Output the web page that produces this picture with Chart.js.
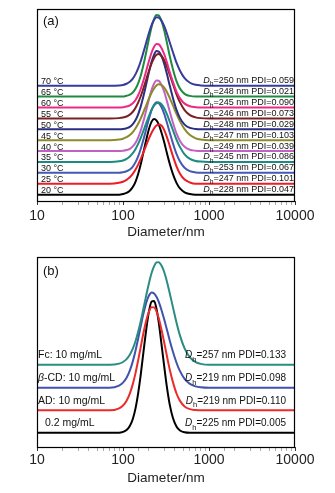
<!DOCTYPE html>
<html>
<head>
<meta charset="utf-8">
<script src="https://cdn.jsdelivr.net/npm/chart.js@4.4.0/dist/chart.umd.min.js"></script>
<style>
  body { margin:0; background:#fff; }
  canvas { display:block; }
</style>
</head>
<body>
<canvas id="chartA" width="335" height="246"></canvas>
<canvas id="chartB" width="335" height="247"></canvas>
<script>
// shared diameter grid (nm)
const diameters = [10,70,90,100,110,120,130,140,150,160,170,180,190,200,215,230,245,260,280,300,325,350,380,420,460,520,600,700,800,1000,10000];
const majorTicks = [10,100,1000,10000];

// ---------- (a) temperature series, bottom to top ----------
const tempLabels = ['20 °C','25 °C','30 °C','35 °C','40 °C','45 °C','50 °C','55 °C','60 °C','65 °C','70 °C'];
const tempOffsets = [6.5,17.6,28.8,39.9,51,62.1,73.2,84.3,95.5,106.6,117.7];
const tempDh = [228,247,253,245,249,247,248,246,245,248,250];
const tempPdi = ['0.047','0.101','0.067','0.086','0.039','0.103','0.029','0.073','0.090','0.021','0.059'];
const tempColors = ['#000000','#ee1c24','#4558b2','#1b8a80','#c062c4','#8c8a2c','#2a2f82','#7b1f24','#ec2a83','#1f8b3f','#373b9c'];

const t20 = [0,0,0,0.6,1.7,3.9,7.7,13.4,21.1,30.2,40.4,50.3,59.2,66.8,74.5,77.3,75.9,71.8,63.5,54.2,42.0,31.2,21.2,11.8,6.3,2.4,0.6,0,0,0,0];
const t25 = [0,0,1.0,2.1,4.0,6.6,10.1,14.5,19.5,24.8,30.5,36.0,41.2,46.0,52.1,56.6,59.4,60.6,59.4,55.3,47.4,38.4,28.5,17.6,10.3,4.3,1.3,0,0,0,0];
const t30 = [0,0,0,0.6,1.6,3.4,6.4,10.9,16.7,23.7,31.7,39.7,47.7,54.9,63.9,69.5,72.0,71.3,67.1,60.7,50.9,40.8,30.3,19.0,11.5,5.1,1.7,0.4,0,0,0];
const t35 = [0,0,0.6,1.5,3.1,5.5,8.9,13.2,18.4,24.0,30.1,36.0,41.6,46.7,53.2,57.6,60.1,60.7,58.9,55.1,48.5,41.0,32.6,22.5,15.1,7.8,3.2,1.0,0.3,0,0];
const t40 = [0,0,0,0.3,1.0,2.3,4.8,8.5,13.8,20.4,28.3,36.4,44.7,52.5,62.4,69.0,72.1,71.8,67.6,61.0,50.7,40.1,29.2,17.7,10.3,4.3,1.3,0.3,0,0,0];
const t45 = [0,0,0.7,1.5,3.0,5.2,8.3,12.2,16.8,21.8,27.2,32.5,37.6,42.4,48.4,52.9,55.8,57.0,56.3,53.9,49.0,43.0,35.8,26.6,19.2,11.2,5.2,1.9,0.7,0,0];
const t50 = [0,0,0,0.3,1.1,2.5,5.3,9.4,15.3,22.6,31.3,40.3,49.5,58.1,69.0,76.3,79.8,79.4,74.8,67.5,56.1,44.4,32.3,19.6,11.4,4.8,1.4,0.3,0,0,0];
const t55 = [0,0,0.3,0.9,2.0,3.9,6.8,11.0,16.2,22.1,28.8,35.5,42.2,48.4,56.2,61.8,65.0,65.7,63.7,59.7,52.5,44.4,35.3,24.4,16.4,8.5,3.4,1.1,0.3,0,0];
const t60 = [0,0,0,0.3,0.9,2.1,4.3,7.6,12.4,18.3,25.4,32.7,40.2,47.2,56.1,62.0,64.8,64.5,60.8,54.8,45.6,36.0,26.3,15.9,9.3,3.9,1.2,0.3,0,0,0];
const t65 = [0,0,0,0,0.8,1.9,4.2,7.9,13.5,20.7,29.7,39.2,49.2,58.8,71.1,79.4,83.3,82.9,77.2,68.2,54.6,41.1,28.2,15.5,8.1,2.8,0.7,0,0,0,0];
const t70 = [0,0,0.3,0.8,2.0,4.0,7.2,11.8,17.6,24.4,32.0,39.5,46.9,53.6,61.9,67.3,69.9,69.6,66.4,61.3,53.0,44.1,34.4,23.2,15.3,7.7,3.0,0.9,0.3,0,0];

// ---------- (b) concentration series, bottom to top ----------
const concLabels = ['0.2 mg/mL','AD: 10 mg/mL','β-CD: 10 mg/mL','Fc: 10 mg/mL'];
const concOffsets = [14.3,37,59.8,83];
const concDh = [225,219,219,257];
const concPdi = ['0.005','0.110','0.098','0.133'];
const concColors = ['#000000','#ee2b2b','#4152ad','#2a8c83'];

const c02 = [0,0,0,0.9,2.8,6.8,14.0,25.0,39.9,57.3,76.3,94.1,109.9,122.3,132.7,133.3,125.4,112.1,89.9,68.7,45.4,28.2,15.3,6.2,2.4,0.5,0,0,0,0,0];
const cAD = [0,0,2.1,4.9,9.8,17.0,26.5,37.9,50.5,63.0,75.1,85.2,93.5,99.6,104.3,104.1,100.0,93.3,81.7,69.5,54.4,41.0,28.8,16.8,9.6,4.0,1.2,0.3,0,0,0];
const cCD = [0,0,2.2,5.2,10.2,17.4,26.7,37.8,49.6,61.3,72.2,81.2,88.2,93.0,96.2,95.2,92.0,87.1,78.7,69.8,58.4,47.6,36.7,25.1,16.8,9.1,3.9,1.4,0.5,0,0];
const cFc = [0,0,1.2,2.9,5.8,10.2,16.3,24.1,33.4,43.4,53.9,64.1,73.6,82.3,92.8,99.8,103.5,103.8,100.4,94.3,83.8,72.1,58.6,42.3,29.5,16.6,7.5,2.7,1.0,0,0];

const FAM = 'Arial, "Liberation Sans", sans-serif';

function buildSets(series, offsets, colors){
  return series.map((vals, i) => ({
    data: vals.map((v, k) => ({x: diameters[k], y: v + offsets[i]})),
    borderColor: colors[i],
    borderWidth: 2,
    pointRadius: 0,
    fill: false,
    cubicInterpolationMode: 'monotone',
    order: -i
  }));
}

// draws D(italic) + subscript h + rest, right aligned
function drawDh(ctx, xRight, yMid, size, rest){
  const fD = 'italic ' + size + 'px ' + FAM;
  const fH = (size * 0.75) + 'px ' + FAM;
  const fR = size + 'px ' + FAM;
  ctx.font = fD; const wD = ctx.measureText('D').width;
  ctx.font = fH; const wH = ctx.measureText('h').width;
  ctx.font = fR; const wR = ctx.measureText(rest).width;
  let x = xRight - wD - wH - wR;
  ctx.textAlign = 'left';
  ctx.font = fD; ctx.fillText('D', x, yMid); x += wD;
  ctx.font = fH; ctx.fillText('h', x, yMid + size * 0.42); x += wH;
  ctx.font = fR; ctx.fillText(rest, x, yMid);
}

const curveText = {
  id: 'curveText',
  afterDatasetsDraw(chart, args, o){
    const {ctx, chartArea: a} = chart;
    const y = chart.scales.y;
    ctx.save();
    ctx.fillStyle = '#111';
    ctx.textBaseline = 'middle';
    ctx.textAlign = 'left';
    ctx.font = '13px ' + FAM;
    ctx.fillText(o.tag, a.left + 6, a.top + o.tagDy);
    o.offsets.forEach((off, i) => {
      const yb = y.getPixelForValue(off);
      // left label
      let lx = a.left + o.leftX + (o.indent ? o.indent[i] : 0);
      const ly = yb - o.leftDy;
      let txt = o.left[i];
      if (txt.charAt(0) === 'β'){
        ctx.font = 'italic ' + o.leftSize + 'px ' + FAM;
        ctx.fillText('β', lx, ly);
        lx += ctx.measureText('β').width;
        txt = txt.slice(1);
      }
      ctx.font = o.leftSize + 'px ' + FAM;
      ctx.fillText(txt, lx, ly);
      // right label
      drawDh(ctx, a.right - o.rightX, yb - o.rightDy, o.rightSize, '=' + o.dh[i] + ' nm PDI=' + o.pdi[i]);
    });
    ctx.restore();
  }
};

const frame = {
  id: 'frame',
  afterDraw(chart){
    const {ctx, chartArea: a} = chart;
    ctx.save();
    ctx.strokeStyle = '#000';
    ctx.lineWidth = 1.2;
    ctx.strokeRect(Math.round(a.left) + 0.5, Math.round(a.top) + 0.5, Math.round(a.width) - 1, Math.round(a.height));
    ctx.restore();
  }
};

function makeOptions(ymax, pad, tickPad, titleLH, textOpts){
  return {
    responsive: false,
    animation: false,
    layout: {padding: pad},
    plugins: {legend: {display: false}, tooltip: {enabled: false}, curveText: textOpts},
    scales: {
      x: {
        type: 'logarithmic', min: 10, max: 10000,
        border: {display: false},
        grid: {
          drawOnChartArea: false, drawTicks: true, tickLength: 4, tickWidth: 1,
          tickColor: c => majorTicks.includes(c.tick.value) ? '#333' : '#aaa'
        },
        ticks: {
          autoSkip: false, maxRotation: 0, padding: tickPad, color: '#222',
          font: {size: 14, family: FAM, lineHeight: 1},
          callback: v => majorTicks.includes(v) ? String(v) : ''
        },
        title: {display: true, text: 'Diameter/nm', color: '#222', padding: 0,
          font: {size: 13.5, family: FAM, lineHeight: titleLH}}
      },
      y: {display: false, min: 0, max: ymax}
    }
  };
}

new Chart(document.getElementById('chartA'), {
  type: 'line',
  data: {datasets: buildSets([t20,t25,t30,t35,t40,t45,t50,t55,t60,t65,t70], tempOffsets, tempColors)},
  options: makeOptions(196, {left: 37, right: 40, top: 9, bottom: 8}, 4, 0.815, {
    tag: '(a)', tagDy: 12.7, offsets: tempOffsets, left: tempLabels, leftX: 4, leftDy: 4, leftSize: 9,
    dh: tempDh, pdi: tempPdi, rightX: 1, rightDy: 5, rightSize: 9
  }),
  plugins: [curveText, frame]
});

new Chart(document.getElementById('chartB'), {
  type: 'line',
  data: {datasets: buildSets([c02,cAD,cCD,cFc], concOffsets, concColors)},
  options: makeOptions(192, {left: 37, right: 40, top: 11, bottom: 5.4}, 2, 1.38, {
    tag: '(b)', tagDy: 14.7, offsets: concOffsets, left: concLabels, leftX: 1, leftDy: 9.3, leftSize: 10.5,
    indent: [7, 0, 0, 0], dh: concDh, pdi: concPdi, rightX: 9, rightDy: 9.5, rightSize: 10
  }),
  plugins: [curveText, frame]
});
</script>
</body>
</html>
